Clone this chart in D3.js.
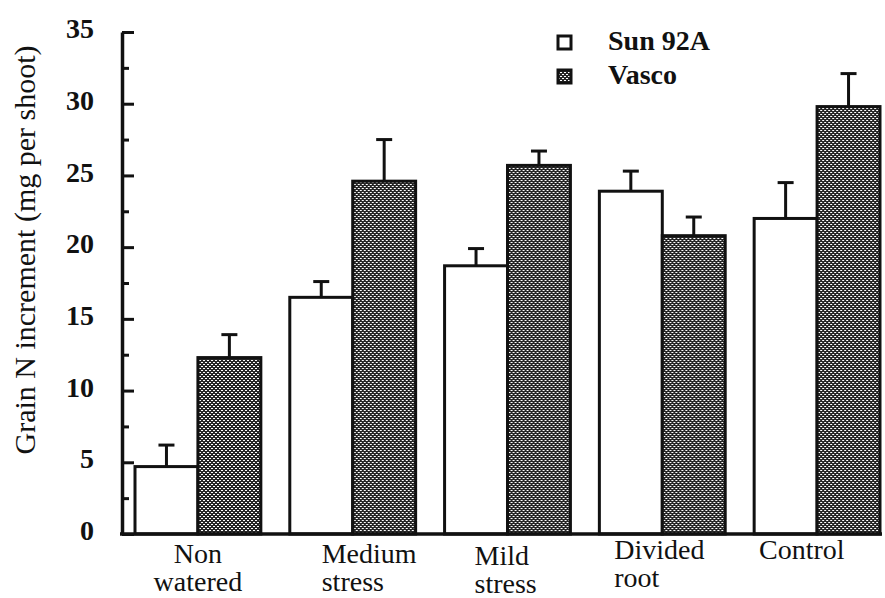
<!DOCTYPE html>
<html lang="en">
<head>
    <meta charset="UTF-8">
    <title>Grain N increment</title>
    <style>
        body { margin: 0; background: #fff; }
        svg { display: block; }
        text { font-family: "Liberation Serif", "Times New Roman", serif; fill: #111; }
    </style>
</head>
<body>
    <script src="https://cdn.jsdelivr.net/npm/d3@7"></script>
    <script>
        // données
        const categories = ['Non watered', 'Medium stress', 'Mild stress', 'Divided root', 'Control']
        const series = ['Sun 92A', 'Vasco']
        const sunValues = [4.7, 16.5, 18.7, 23.9, 22.0]
        const sunErrors = [1.5, 1.1, 1.2, 1.4, 2.5]
        const vascoValues = [12.3, 24.6, 25.7, 20.8, 29.8]
        const vascoErrors = [1.6, 2.9, 1.0, 1.3, 2.3]
        const yTicks = [0, 5, 10, 15, 20, 25, 30, 35]

        // mise en page des étiquettes (décalages par rapport au centre du groupe)
        const labelDx = [0, -31, -33, -48, -58]
        const labelAnchor = ['middle', 'start', 'start', 'start', 'start']
        const labelY = [563, 563, 565, 559, 559]

        const width = 885, height = 598
        const svg = d3.select('body').append('svg')
            .attr('width', width)
            .attr('height', height)

        // motif de remplissage pour Vasco
        const pat = svg.append('defs').append('pattern')
            .attr('id', 'trame')
            .attr('patternUnits', 'userSpaceOnUse')
            .attr('width', 4).attr('height', 4)
        pat.append('rect').attr('width', 4).attr('height', 4).attr('fill', '#262626')
        pat.append('rect').attr('x', 0).attr('y', 0).attr('width', 2).attr('height', 1).attr('fill', '#fff')
        pat.append('rect').attr('x', 2).attr('y', 2).attr('width', 2).attr('height', 1).attr('fill', '#fff')

        // échelles
        const axisX = 122
        const y = d3.scaleLinear().domain([0, 35]).range([534, 32])
        const x = d3.scaleBand().domain(categories).range([135, 880]).paddingInner(0.187).paddingOuter(0)
        const xs = d3.scaleBand().domain(series).range([0, x.bandwidth()])

        const rows = categories.map((c, i) => ({
            cat: c,
            vals: [
                { s: 'Sun 92A', v: sunValues[i], e: sunErrors[i] },
                { s: 'Vasco', v: vascoValues[i], e: vascoErrors[i] }
            ]
        }))

        const fills = { 'Sun 92A': '#fff', 'Vasco': 'url(#trame)' }

        // barres
        const groupes = svg.append('g').selectAll('g')
            .data(rows)
            .join('g')
            .attr('transform', d => `translate(${x(d.cat)},0)`)

        groupes.selectAll('rect')
            .data(d => d.vals)
            .join('rect')
            .attr('x', d => xs(d.s))
            .attr('y', d => y(d.v))
            .attr('width', xs.bandwidth())
            .attr('height', d => y(0) - y(d.v))
            .attr('fill', d => fills[d.s])
            .attr('stroke', '#111')
            .attr('stroke-width', 3)

        // barres d'erreur
        groupes.selectAll('line.stem')
            .data(d => d.vals)
            .join('line')
            .attr('class', 'stem')
            .attr('x1', d => xs(d.s) + xs.bandwidth() / 2)
            .attr('x2', d => xs(d.s) + xs.bandwidth() / 2)
            .attr('y1', d => y(d.v))
            .attr('y2', d => y(d.v + d.e))
            .attr('stroke', '#111')
            .attr('stroke-width', 3)

        groupes.selectAll('line.cap')
            .data(d => d.vals)
            .join('line')
            .attr('class', 'cap')
            .attr('x1', d => xs(d.s) + xs.bandwidth() / 2 - 8)
            .attr('x2', d => xs(d.s) + xs.bandwidth() / 2 + 8)
            .attr('y1', d => y(d.v + d.e))
            .attr('y2', d => y(d.v + d.e))
            .attr('stroke', '#111')
            .attr('stroke-width', 3)

        // axe Y (graduations vers l'intérieur)
        const yAxis = d3.axisLeft(y)
            .tickValues(yTicks)
            .tickSizeInner(-12)
            .tickSizeOuter(0)
            .tickPadding(28)
        const gy = svg.append('g')
            .attr('transform', `translate(${axisX},0)`)
            .call(yAxis)
        gy.select('.domain').attr('stroke', '#111').attr('stroke-width', 3.5)
        gy.selectAll('.tick line').attr('stroke', '#111').attr('stroke-width', 3)
        gy.selectAll('.tick text')
            .attr('dy', '0.2em')
            .style('font-size', '28px')
            .style('font-weight', 'bold')
            .style('font-family', '"Liberation Serif", serif')
            .attr('fill', '#111')

        // graduations mineures
        const minor = svg.append('g')
            .attr('transform', `translate(${axisX},0)`)
            .call(d3.axisLeft(y)
                .tickValues(d3.range(2.5, 35, 5))
                .tickSizeInner(-7)
                .tickSizeOuter(0)
                .tickFormat(''))
        minor.select('.domain').remove()
        minor.selectAll('.tick line').attr('stroke', '#111').attr('stroke-width', 3)

        // axe X
        svg.append('line')
            .attr('x1', axisX - 2)
            .attr('x2', x.range()[1] + 2)
            .attr('y1', y(0))
            .attr('y2', y(0))
            .attr('stroke', '#111')
            .attr('stroke-width', 3.5)

        // étiquettes des catégories
        svg.append('g').selectAll('text')
            .data(categories)
            .join('text')
            .attr('x', (d, i) => x(d) + x.bandwidth() / 2 + labelDx[i])
            .attr('y', (d, i) => labelY[i])
            .attr('text-anchor', (d, i) => labelAnchor[i])
            .style('font-size', '28px')
            .each(function (d) {
                const mots = d.split(' ')
                const t = d3.select(this)
                const x0 = t.attr('x')
                mots.forEach((m, k) => {
                    t.append('tspan')
                        .attr('x', x0)
                        .attr('dy', k === 0 ? 0 : 28)
                        .text(m)
                })
            })

        // titre de l'axe Y
        svg.append('text')
            .attr('transform', 'translate(35,250) rotate(-90)')
            .attr('text-anchor', 'middle')
            .style('font-size', '30px')
            .text('Grain N increment (mg per shoot)')

        // légende
        const legende = svg.append('g').selectAll('g')
            .data(series)
            .join('g')
            .attr('transform', (d, i) => `translate(558,${36 + i * 34})`)
        legende.append('rect')
            .attr('width', 13).attr('height', 13)
            .attr('fill', d => fills[d])
            .attr('stroke', '#111')
            .attr('stroke-width', 3)
        legende.append('text')
            .attr('x', 50)
            .attr('y', 14)
            .style('font-size', '28px')
            .style('font-weight', 'bold')
            .text(d => d)
    </script>
</body>
</html>
